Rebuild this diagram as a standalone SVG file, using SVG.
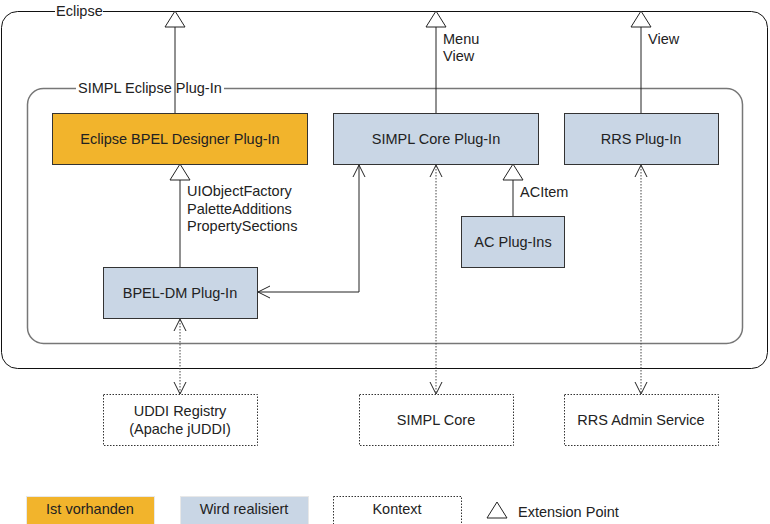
<svg xmlns="http://www.w3.org/2000/svg" width="770" height="524" viewBox="0 0 770 524">
<style>
text{font-family:"Liberation Sans",Arial,sans-serif;font-size:14.5px;fill:#222}
.c{text-anchor:middle}
.orange{fill:#F2B42C;stroke:#333;stroke-width:1}
.blue{fill:#C9D6E5;stroke:#333;stroke-width:1}
.ctx{fill:#fff;stroke:#333;stroke-width:1;stroke-dasharray:1.5 1.5}
.line{fill:none;stroke:#222;stroke-width:1}
.dot{fill:none;stroke:#444;stroke-width:1;stroke-dasharray:1.5 1.5}
.tri{fill:#fff;stroke:#222;stroke-width:1}
.open{fill:none;stroke:#222;stroke-width:1}
</style>
<rect width="770" height="524" fill="#fff"/>
<g id="eclipse">
<rect x="1.5" y="11.5" width="766" height="357" rx="16" fill="none" stroke="#111" stroke-width="1"/>
<rect x="55" y="4" width="48" height="14" fill="#fff"/>
<text x="56" y="16">Eclipse</text>
</g>
<g id="simpl-eclipse">
<rect x="27.5" y="88.5" width="715" height="255" rx="16" fill="none" stroke="#777" stroke-width="1.5"/>
<rect x="76" y="81" width="148" height="14" fill="#fff"/>
<text x="78" y="93">SIMPL Eclipse Plug-In</text>
</g>
<g id="connectors">
<line class="line" x1="175" y1="113" x2="175" y2="27"/>
<polygon class="tri" points="175,11 165,27 185,27"/>
<line class="line" x1="436" y1="113" x2="436" y2="27"/>
<polygon class="tri" points="436,11 426,27 446,27"/>
<line class="line" x1="641" y1="113" x2="641" y2="27"/>
<polygon class="tri" points="641,11 631,27 651,27"/>
<line class="line" x1="180" y1="267" x2="180" y2="180"/>
<polygon class="tri" points="180,164 170,180 190,180"/>
<line class="line" x1="513" y1="216" x2="513" y2="180"/>
<polygon class="tri" points="513,164 503,180 523,180"/>
<polyline class="line" points="258,292 359,292 359,165"/>
<polyline class="open" points="270,286 258,292 270,298"/>
<polyline class="open" points="353,177 359,165 365,177"/>
<line class="dot" x1="180" y1="320" x2="180" y2="393"/>
<polyline class="open" points="174,331 180,319 186,331"/>
<polyline class="open" points="174,382 180,394 186,382"/>
<line class="dot" x1="436" y1="166" x2="436" y2="393"/>
<polyline class="open" points="430,177 436,165 442,177"/>
<polyline class="open" points="430,382 436,394 442,382"/>
<line class="dot" x1="641" y1="166" x2="641" y2="393"/>
<polyline class="open" points="635,177 641,165 647,177"/>
<polyline class="open" points="635,382 641,394 647,382"/>
<text x="443" y="44">Menu</text>
<text x="443" y="61">View</text>
<text x="648" y="44">View</text>
<text x="187" y="196">UIObjectFactory</text>
<text x="187" y="214">PaletteAdditions</text>
<text x="187" y="231">PropertySections</text>
<text x="520" y="197">ACItem</text>
</g>
<g id="bpel-designer">
<rect class="orange" x="52.5" y="113.5" width="255" height="51"/>
<text class="c" x="180" y="144">Eclipse BPEL Designer Plug-In</text>
</g>
<g id="simpl-core-plugin">
<rect class="blue" x="333.5" y="113.5" width="205" height="51"/>
<text class="c" x="436" y="144">SIMPL Core Plug-In</text>
</g>
<g id="rrs-plugin">
<rect class="blue" x="564.5" y="113.5" width="154" height="51"/>
<text class="c" x="641" y="144">RRS Plug-In</text>
</g>
<g id="ac-plugins">
<rect class="blue" x="461.5" y="216.5" width="103" height="51"/>
<text class="c" x="513" y="247">AC Plug-Ins</text>
</g>
<g id="bpel-dm">
<rect class="blue" x="103.5" y="267.5" width="154" height="51"/>
<text class="c" x="180" y="298">BPEL-DM Plug-In</text>
</g>
<g id="uddi">
<rect class="ctx" x="103.5" y="394.5" width="154" height="51"/>
<text class="c" x="180" y="416">UDDI Registry</text>
<text class="c" x="180" y="434">(Apache jUDDI)</text>
</g>
<g id="simpl-core">
<rect class="ctx" x="359.5" y="394.5" width="154" height="51"/>
<text class="c" x="436" y="425">SIMPL Core</text>
</g>
<g id="rrs-admin">
<rect class="ctx" x="564.5" y="394.5" width="154" height="51"/>
<text class="c" x="641" y="425">RRS Admin Service</text>
</g>
<g id="legend">
<rect x="26.5" y="496.5" width="128" height="30" fill="#F2B42C" stroke="#e8e8e8"/>
<text class="c" x="90" y="514">Ist vorhanden</text>
<rect x="180.5" y="496.5" width="128" height="30" fill="#C9D6E5" stroke="#e8e8e8"/>
<text class="c" x="244" y="514">Wird realisiert</text>
<rect class="ctx" x="333.5" y="496.5" width="128" height="30"/>
<text class="c" x="397" y="514">Kontext</text>
<polygon class="tri" points="497,502 487,518 507,518"/>
<text x="518" y="517">Extension Point</text>
</g>
</svg>
